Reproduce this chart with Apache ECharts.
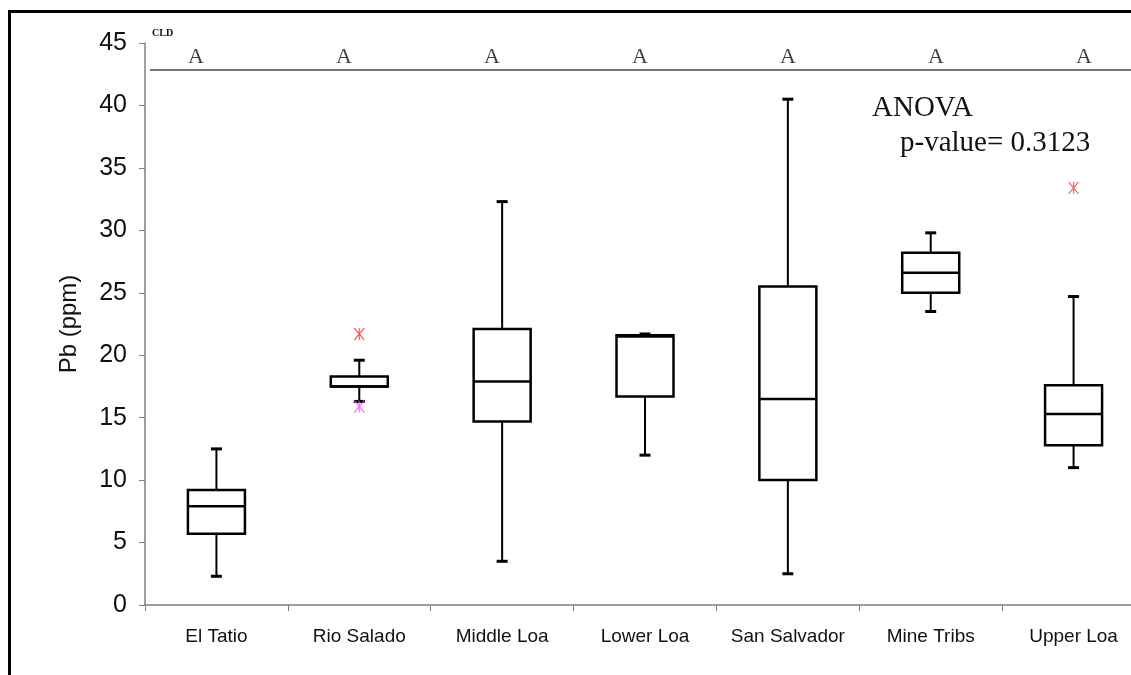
<!DOCTYPE html>
<html>
<head>
<meta charset="utf-8">
<script src="https://cdn.jsdelivr.net/npm/echarts@6/dist/echarts.min.js"></script>
<style>html,body{margin:0;padding:0;background:#fff;overflow:hidden}#c{width:1160px;height:675px}</style>
</head>
<body>
<div id="c"></div>
<script>
var categories = ['El Tatio','Rio Salado','Middle Loa','Lower Loa','San Salvador','Mine Tribs','Upper Loa'];
var lowWhisker = [2.3, 16.3, 3.5, 12.0, 2.5, 23.5, 11.0];
var q1 = [5.7, 17.5, 14.7, 16.7, 10.0, 25.0, 12.8];
var median = [7.9, 17.5, 17.9, 21.5, 16.5, 26.6, 15.3];
var q3 = [9.2, 18.3, 22.1, 21.6, 25.5, 28.2, 17.6];
var highWhisker = [12.5, 19.6, 32.3, 21.7, 40.5, 29.8, 24.7];
var outliersRed = [['Rio Salado', 21.7], ['Upper Loa', 33.4]];
var outliersMagenta = [['Rio Salado', 15.9]];
var cldLetters = ['A','A','A','A','A','A','A'];
var cldLevel = 43.9;
var cldLine = 42.85;
var yTicks = [0,5,10,15,20,25,30,35,40,45];

var boxData = categories.map(function(c,i){return [i, lowWhisker[i], q1[i], median[i], q3[i], highWhisker[i]];});

var chart = echarts.init(document.getElementById('c'));
var star = 'path://M0,0 L10,12 M10,0 L0,12 M5,0 L5,12';
chart.setOption({
  animation: false,
  backgroundColor: '#fff',
  grid: [
    {left: 145, top: 43, width: 1000, height: 562, containLabel: false},
    {left: 122, top: 43, width: 1036, height: 562, containLabel: false}
  ],
  xAxis: [{
    type: 'category', data: categories, boundaryGap: true, gridIndex: 0,
    axisLine: {lineStyle: {color: '#808080', width: 1.5}},
    axisTick: {show: true, length: 6, interval: 0, lineStyle: {color: '#808080'}},
    axisLabel: {color: '#111', fontFamily: 'Liberation Sans', fontSize: 19, margin: 22, interval: 0},
    splitLine: {show: false}
  }, {
    type: 'category', data: categories, boundaryGap: true, gridIndex: 1, show: false
  }],
  yAxis: [{
    type: 'value', min: 0, max: 45, interval: 5, gridIndex: 0,
    name: 'Pb (ppm)', nameLocation: 'middle', nameGap: 64, nameRotate: 90,
    nameTextStyle: {color: '#111', fontFamily: 'Liberation Sans', fontSize: 24},
    axisLine: {show: true, lineStyle: {color: '#808080', width: 1.5}},
    axisTick: {show: true, length: 6, lineStyle: {color: '#808080'}},
    axisLabel: {color: '#111', fontFamily: 'Liberation Sans', fontSize: 25, margin: 18,
      formatter: function(v){return yTicks.indexOf(v) >= 0 ? String(v) : '';}},
    splitLine: {show: false}
  }, {
    type: 'value', min: 0, max: 45, gridIndex: 1, show: false
  }],
  graphic: [
    {type: 'rect', shape: {x: 8, y: 10, width: 3, height: 665}, style: {fill: '#000'}},
    {type: 'rect', shape: {x: 8, y: 10, width: 1140, height: 3}, style: {fill: '#000'}},
    {type: 'text', left: 152, top: 28, style: {text: 'CLD', font: 'bold 10px "Liberation Serif"', fill: '#111'}},
    {type: 'text', style: {x: 872, y: 108, text: 'ANOVA', font: '29px "Liberation Serif"', fill: '#111', textVerticalAlign: 'middle'}},
    {type: 'text', style: {x: 900, y: 143, text: 'p-value= 0.3123', font: '29px "Liberation Serif"', fill: '#111', textVerticalAlign: 'middle'}}
  ],
  series: [
    {
      type: 'custom', data: boxData, z: 3, xAxisIndex: 0, yAxisIndex: 0,
      renderItem: function(params, api){
        var i = api.value(0);
        var bw = 57, cw = 11;
        var pLow = api.coord([i, api.value(1)]);
        var pQ1 = api.coord([i, api.value(2)]);
        var pMed = api.coord([i, api.value(3)]);
        var pQ3 = api.coord([i, api.value(4)]);
        var pHigh = api.coord([i, api.value(5)]);
        var x = pQ1[0];
        return {type: 'group', children: [
          {type: 'line', shape: {x1: x, y1: pHigh[1], x2: x, y2: pQ3[1]}, style: {stroke: '#000', lineWidth: 2}},
          {type: 'line', shape: {x1: x, y1: pQ1[1], x2: x, y2: pLow[1]}, style: {stroke: '#000', lineWidth: 2}},
          {type: 'line', shape: {x1: x - cw/2, y1: pHigh[1], x2: x + cw/2, y2: pHigh[1]}, style: {stroke: '#000', lineWidth: 3}},
          {type: 'line', shape: {x1: x - cw/2, y1: pLow[1], x2: x + cw/2, y2: pLow[1]}, style: {stroke: '#000', lineWidth: 3}},
          {type: 'rect', shape: {x: x - bw/2, y: pQ3[1], width: bw, height: pQ1[1] - pQ3[1]}, style: {stroke: '#000', lineWidth: 2.5, fill: '#fff'}},
          {type: 'line', shape: {x1: x - bw/2, y1: pMed[1], x2: x + bw/2, y2: pMed[1]}, style: {stroke: '#000', lineWidth: 2.5}}
        ]};
      },
      markLine: {
        silent: true, symbol: ['none','none'], label: {show: false},
        lineStyle: {color: '#444', width: 1.5, type: 'solid'},
        data: [[{coord: [0, cldLine], x: 150}, {coord: [6, cldLine], x: 1160}]]
      }
    },
    {
      type: 'scatter', data: outliersRed, symbol: star, symbolSize: [10, 12], z: 4,
      itemStyle: {color: 'rgba(0,0,0,0)', borderColor: '#ff2a2a', borderWidth: 1.2}
    },
    {
      type: 'scatter', data: outliersMagenta, symbol: star, symbolSize: [10, 12], z: 4,
      itemStyle: {color: 'rgba(0,0,0,0)', borderColor: '#ff40ff', borderWidth: 1.2}
    },
    {
      type: 'scatter', xAxisIndex: 1, yAxisIndex: 1,
      data: categories.map(function(c,i){return [c, cldLevel];}),
      symbolSize: 0, z: 5,
      label: {show: true, position: 'inside', formatter: function(p){return cldLetters[p.dataIndex];},
        color: '#111', fontFamily: 'Liberation Serif', fontSize: 22}
    }
  ]
});
</script>
</body>
</html>
